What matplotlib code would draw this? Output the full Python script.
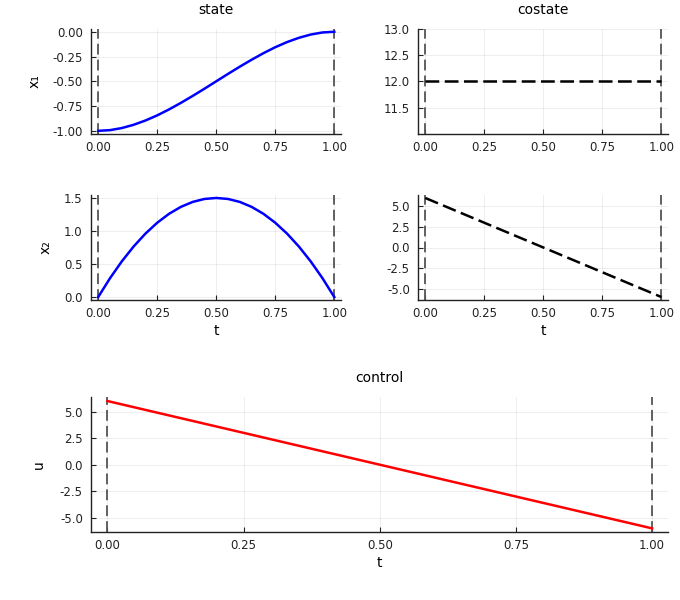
import matplotlib
matplotlib.use("Agg")
import matplotlib.pyplot as plt
from matplotlib.ticker import FormatStrFormatter

plt.rcParams['font.family'] = ['DejaVu Sans']

# time grid and values
t = [0.0, 0.05, 0.1, 0.15, 0.2, 0.25, 0.3, 0.35, 0.4, 0.45, 0.5,
     0.55, 0.6, 0.65, 0.7, 0.75, 0.8, 0.85, 0.9, 0.95, 1.0]
x1 = [-1.0, -0.993, -0.972, -0.939, -0.896, -0.844, -0.784, -0.718, -0.648, -0.575, -0.5,
      -0.425, -0.352, -0.282, -0.216, -0.156, -0.104, -0.061, -0.028, -0.007, 0.0]
x2 = [0.0, 0.285, 0.54, 0.765, 0.96, 1.125, 1.26, 1.365, 1.44, 1.485, 1.5,
      1.485, 1.44, 1.365, 1.26, 1.125, 0.96, 0.765, 0.54, 0.285, 0.0]
t_line = [0.0, 1.0]
p1 = [12.0, 12.0]
p2 = [6.0, -6.0]
u = [6.0, -6.0]
t0, tf = 0.0, 1.0

x_ticks = [0.0, 0.25, 0.5, 0.75, 1.0]


def style_axes(ax, yfmt, yticks, ylim):
    ax.set_xlim(-0.03, 1.03)
    ax.set_ylim(*ylim)
    ax.set_xticks(x_ticks)
    ax.set_yticks(yticks)
    ax.xaxis.set_major_formatter(FormatStrFormatter('%.2f'))
    ax.yaxis.set_major_formatter(FormatStrFormatter(yfmt))
    for s in ['top', 'right']:
        ax.spines[s].set_visible(False)
    for s in ['left', 'bottom']:
        ax.spines[s].set_linewidth(1.0)
        ax.spines[s].set_color('#222222')
    ax.tick_params(direction='in', length=3.5, width=0.8, labelsize=8.5, colors='#222222')
    ax.tick_params(axis='y', pad=6)
    ax.tick_params(axis='x', pad=5)
    ax.grid(True, color='black', alpha=0.08, linewidth=0.6)
    ax.set_axisbelow(True)
    for tv in (t0, tf):
        ax.axvline(tv, color='#555555', lw=1.3, dashes=(6, 2.8), zorder=1)


fig = plt.figure(figsize=(6.8, 6.0), dpi=100)

ax1 = fig.add_axes([0.134, 0.777, 0.368, 0.175])
ax2 = fig.add_axes([0.615, 0.777, 0.368, 0.175])
ax3 = fig.add_axes([0.134, 0.500, 0.368, 0.175])
ax4 = fig.add_axes([0.615, 0.500, 0.368, 0.175])
ax5 = fig.add_axes([0.134, 0.113, 0.849, 0.225])

style_axes(ax1, '%.2f', [-1.0, -0.75, -0.5, -0.25, 0.0], (-1.03, 0.03))
ax1.plot(t, x1, color='blue', lw=1.8, zorder=3)
ax1.set_ylabel('x₁', fontsize=10, labelpad=8)
ax1.set_title('state', fontsize=10, pad=11)

style_axes(ax2, '%.1f', [11.5, 12.0, 12.5, 13.0], (11.0, 13.0))
ax2.plot(t_line, p1, color='black', lw=1.8, dashes=(5.5, 2.2), zorder=3)
ax2.set_title('costate', fontsize=10, pad=11)

style_axes(ax3, '%.1f', [0.0, 0.5, 1.0, 1.5], (-0.045, 1.545))
ax3.plot(t, x2, color='blue', lw=1.8, zorder=3)
ax3.set_ylabel('x₂', fontsize=10, labelpad=8)
ax3.set_xlabel('t', fontsize=10, labelpad=3)

style_axes(ax4, '%.1f', [-5.0, -2.5, 0.0, 2.5, 5.0], (-6.36, 6.36))
ax4.plot(t_line, p2, color='black', lw=1.8, dashes=(5.5, 2.2), zorder=3)
ax4.set_xlabel('t', fontsize=10, labelpad=3)

style_axes(ax5, '%.1f', [-5.0, -2.5, 0.0, 2.5, 5.0], (-6.36, 6.36))
ax5.plot(t_line, u, color='red', lw=1.8, zorder=3)
ax5.set_ylabel('u', fontsize=10, labelpad=10)
ax5.set_xlabel('t', fontsize=10, labelpad=3)
ax5.set_title('control', fontsize=10, pad=11)

fig.savefig('out.png', dpi=100, facecolor='white')
